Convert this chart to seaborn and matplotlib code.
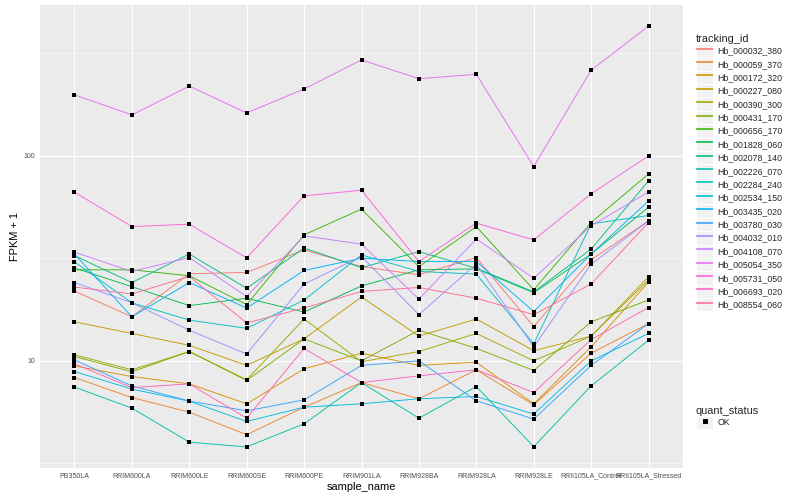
import numpy as np
import pandas as pd
import seaborn as sns
import matplotlib
matplotlib.use('Agg')
import matplotlib.pyplot as plt
from matplotlib.lines import Line2D
from matplotlib.patches import Rectangle
from matplotlib.legend_handler import HandlerLine2D
from matplotlib.ticker import NullFormatter

# samples on the x axis
samples = ['PB350LA', 'RRIM600LA', 'RRIM600LE', 'RRIM600SE', 'RRIM600PE', 'RRIM901LA',
           'RRIM928BA', 'RRIM928LA', 'RRIM928LE', 'RRII105LA_Control', 'RRII105LA_Stressed']

ids = ['Hb_000032_380', 'Hb_000059_370', 'Hb_000172_320', 'Hb_000227_080', 'Hb_000390_300',
       'Hb_000431_170', 'Hb_000656_170', 'Hb_001828_060', 'Hb_002078_140', 'Hb_002226_070',
       'Hb_002284_240', 'Hb_002534_150', 'Hb_003435_020', 'Hb_003780_030', 'Hb_004032_010',
       'Hb_004108_070', 'Hb_005054_350', 'Hb_005731_050', 'Hb_006693_020', 'Hb_008554_060']

# FPKM + 1
hb_000032_380 = [21.9, 16.4, 26.6, 27.0, 34.8, 28.8, 26.3, 31.9, 14.7, 31.1, 48.2]
hb_000059_370 = [8.29, 6.62, 5.62, 4.36, 5.94, 7.83, 6.53, 9.04, 6.10, 10.9, 15.2]
hb_000172_320 = [9.45, 8.38, 7.72, 6.17, 9.14, 10.9, 9.5, 9.85, 6.17, 11.7, 24.3]
hb_000227_080 = [15.5, 13.6, 11.9, 9.5, 12.8, 20.5, 13.2, 16.0, 11.2, 13.2, 25.7]
hb_000390_300 = [10.7, 9.04, 11.1, 8.08, 16.0, 9.9, 11.1, 13.6, 10.0, 13.2, 24.8]
hb_000431_170 = [10.5, 8.84, 11.1, 8.02, 12.8, 10.0, 14.1, 11.5, 8.97, 15.5, 19.8]
hb_000656_170 = [27.8, 27.8, 26.0, 18.8, 41.2, 55.0, 28.8, 45.2, 22.2, 47.3, 81.7]
hb_001828_060 = [28.4, 23.0, 18.6, 20.2, 17.3, 23.2, 27.8, 28.1, 21.5, 33.2, 56.2]
hb_002078_140 = [32.6, 24.1, 33.2, 22.6, 35.5, 28.5, 34.1, 28.3, 21.7, 35.1, 75.5]
hb_002226_070 = [7.44, 5.88, 4.01, 3.80, 4.93, 7.83, 5.25, 7.49, 3.81, 7.55, 12.6]
hb_002284_240 = [30.4, 19.2, 15.8, 14.4, 19.8, 32.9, 27.3, 26.5, 12.1, 46.6, 51.2]
hb_002534_150 = [8.87, 7.28, 6.36, 5.06, 5.94, 6.17, 6.53, 6.70, 5.50, 10.0, 13.6]
hb_003435_020 = [33.2, 16.4, 24.1, 18.1, 27.6, 31.7, 30.5, 30.5, 17.4, 33.2, 60.3]
hb_003780_030 = [10.1, 7.55, 6.36, 5.70, 6.45, 9.5, 10.0, 6.38, 5.20, 9.5, 15.2]
hb_004032_010 = [24.1, 19.2, 14.1, 10.8, 23.7, 32.3, 16.8, 29.7, 11.7, 29.6, 48.2]
hb_004108_070 = [33.9, 27.3, 31.9, 20.6, 40.7, 37.1, 20.0, 39.3, 25.3, 45.6, 66.7]
hb_005054_350 = [198.6, 158.5, 219.0, 162.0, 212.0, 294.0, 238.0, 250.0, 88.7, 262.0, 430.0]
hb_005731_050 = [66.5, 45.2, 46.4, 31.8, 63.8, 68.0, 30.5, 47.0, 38.9, 65.3, 100.0]
hb_006693_020 = [9.67, 7.40, 7.72, 5.25, 11.5, 7.83, 8.45, 9.04, 7.00, 12.7, 18.2]
hb_008554_060 = [22.9, 21.2, 25.8, 15.3, 18.1, 21.8, 22.8, 20.2, 16.8, 23.7, 47.3]

series = [hb_000032_380, hb_000059_370, hb_000172_320, hb_000227_080, hb_000390_300,
          hb_000431_170, hb_000656_170, hb_001828_060, hb_002078_140, hb_002226_070,
          hb_002284_240, hb_002534_150, hb_003435_020, hb_003780_030, hb_004032_010,
          hb_004108_070, hb_005054_350, hb_005731_050, hb_006693_020, hb_008554_060]


def hcl(h, c=100, l=65):
    # ggplot hue palette colour (polar LUV -> sRGB)
    h = np.deg2rad(h)
    u, v = c * np.cos(h), c * np.sin(h)
    xn, yn, zn = 95.047, 100.0, 108.883
    Y = yn * ((l + 16) / 116) ** 3
    un = 4 * xn / (xn + 15 * yn + 3 * zn)
    vn = 9 * yn / (xn + 15 * yn + 3 * zn)
    up = u / (13 * l) + un
    vp = v / (13 * l) + vn
    X = 9 * Y * up / (4 * vp)
    Z = -X / 3 - 5 * Y + 3 * Y / vp
    m = np.array([[3.240479, -1.537150, -0.498535],
                  [-0.969256, 1.875992, 0.041556],
                  [0.055648, -0.204043, 1.057311]])
    rgb = m @ (np.array([X, Y, Z]) / 100)
    rgb = np.where(rgb <= 0.0031308, 12.92 * rgb, 1.055 * np.abs(rgb) ** (1 / 2.4) - 0.055)
    r, g, b = np.clip(rgb, 0, 1)
    return '#%02X%02X%02X' % (round(r * 255), round(g * 255), round(b * 255))


colors = [hcl(15 + 18 * i) for i in range(len(ids))]


class KeyHandler(HandlerLine2D):
    # legend key with ggplot style grey box behind it
    def create_artists(self, legend, orig_handle, xdescent, ydescent, width, height,
                       fontsize, trans):
        bg = Rectangle((-xdescent, -ydescent), width, height, facecolor='#F2F2F2',
                       edgecolor='white', lw=1, transform=trans)
        arts = super().create_artists(legend, orig_handle, xdescent, ydescent, width,
                                      height, fontsize, trans)
        return [bg] + list(arts)


rows = []
for tid, vals in zip(ids, series):
    for s, v in zip(samples, vals):
        rows.append((tid, s, v))
df = pd.DataFrame(rows, columns=['tracking_id', 'sample_name', 'fpkm'])
df['quant_status'] = 'OK'

sns.set_theme(style='darkgrid', rc={'axes.facecolor': '#EBEBEB', 'grid.color': 'white'})
plt.rcParams['font.family'] = ['Liberation Sans', 'DejaVu Sans']

fig = plt.figure(figsize=(800 / 72, 500 / 72), dpi=72)
fig.patch.set_facecolor('white')
ax = fig.add_axes([40 / 800, 32 / 500, 643 / 800, 463 / 500])

sns.lineplot(data=df, x='sample_name', y='fpkm', hue='tracking_id', hue_order=ids,
             palette=dict(zip(ids, colors)), estimator=None, sort=False, lw=0.9,
             legend=False, ax=ax)
sns.scatterplot(data=df, x='sample_name', y='fpkm', color='black', marker='s', s=13,
                linewidth=0, legend=False, ax=ax, zorder=3)

ax.set_yscale('log')
lo, hi = np.log10(df['fpkm'].min()), np.log10(df['fpkm'].max())
pad = 0.05 * (hi - lo)
ax.set_ylim(10 ** (lo - pad), 10 ** (hi + pad))
ax.set_xlim(-0.6, len(samples) - 0.4)
ax.set_yticks([10, 100])
ax.set_yticklabels(['10', '100'])
ax.set_yticks([10 ** 0.5, 10 ** 1.5, 10 ** 2.5], minor=True)
ax.yaxis.set_minor_formatter(NullFormatter())
ax.grid(which='major', color='white', lw=1.1)
ax.grid(which='minor', axis='y', color='white', lw=0.55)
ax.tick_params(which='minor', length=0)
ax.tick_params(which='major', length=2.75, width=1, color='#333333', labelsize=7,
               labelcolor='#4D4D4D', pad=2)
for sp in ax.spines.values():
    sp.set_visible(False)
ax.set_xlabel('sample_name', fontsize=11, color='black', labelpad=2)
ax.set_ylabel('FPKM + 1', fontsize=11, color='black', labelpad=4)

# legends
leg_kw = dict(loc='upper left', frameon=False, fontsize=8.8, title_fontsize=11,
              handlelength=1.96, handleheight=1.96, labelspacing=0, handletextpad=0.45,
              borderpad=0, borderaxespad=0, alignment='left', numpoints=1)
h1 = [Line2D([], [], color=c, lw=1.6, solid_capstyle='butt') for c in colors]
leg1 = fig.legend(h1, ids, bbox_to_anchor=(696 / 800, 1 - 34 / 500), title='tracking_id',
                  handler_map={Line2D: KeyHandler()}, **leg_kw)
h2 = [Line2D([], [], ls='', marker='s', color='black', markersize=4)]
leg2 = fig.legend(h2, ['OK'], bbox_to_anchor=(696 / 800, 1 - 406 / 500),
                  title='quant_status', handler_map={Line2D: KeyHandler()}, **leg_kw)

fig.savefig('out.png', dpi=72)
